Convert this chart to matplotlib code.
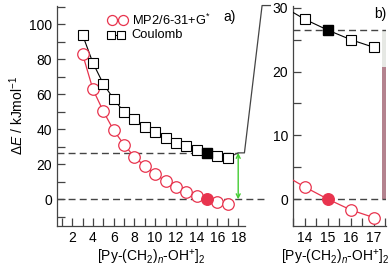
import numpy as np
import matplotlib.pyplot as plt

plt.rcParams['font.family'] = ['Liberation Sans', 'DejaVu Sans']
plt.rcParams['mathtext.fontset'] = 'custom'
plt.rcParams['mathtext.rm'] = 'Liberation Sans'
plt.rcParams['mathtext.it'] = 'Liberation Sans:italic'

# -----------------------------
# data
# -----------------------------
n = np.arange(3, 18)
mp2 = [83, 62.8, 50.3, 39.4, 31.2, 24.2, 19.0, 14.5, 10.3, 7.0, 4.0, 1.9, 0.0, -1.7, -2.9]
coulomb = [93.9, 77.9, 65.9, 57.3, 49.8, 45.6, 41.2, 38.2, 35.0, 32.3, 30.3, 28.2, 26.5, 25.0, 23.8]

n_ref = 15                 # filled markers
e_ref = 26.5               # Coulomb offset at n = 15
bar_low = 20.7             # split of the stacked bar in panel b

RED = '#e8344e'
GREY = '#444444'
FS = 10

fig = plt.figure(figsize=(3.91, 2.68), dpi=100)
ax_a = fig.add_axes([0.146, 0.157, 0.481, 0.821])
ax_b = fig.add_axes([0.749, 0.157, 0.238, 0.821])

mp2 = np.array(mp2)
coulomb = np.array(coulomb)
ref = n == n_ref

for ax in (ax_a, ax_b):
    ax.plot(n, mp2, '-', color=RED, lw=0.9, zorder=3)
    ax.plot(n[~ref], mp2[~ref], 'o', mfc='white', mec=RED, mew=0.9, ms=8.3, ls='none', zorder=4)
    ax.plot(n[ref], mp2[ref], 'o', color=RED, ms=8.3, ls='none', zorder=4)
    ax.plot(n, coulomb, '-', color='black', lw=0.8, zorder=3)
    ax.plot(n[~ref], coulomb[~ref], 's', mfc='white', mec='black', mew=0.8, ms=7, ls='none', zorder=4)
    ax.plot(n[ref], coulomb[ref], 's', color='black', ms=7, ls='none', zorder=4)
    for s in ('top', 'right'):
        ax.spines[s].set_visible(False)
    for s in ('left', 'bottom'):
        ax.spines[s].set_color(GREY)
        ax.spines[s].set_linewidth(0.9)
    ax.tick_params(direction='in', which='both', colors=GREY, labelcolor='black',
                   labelsize=FS, width=0.9, length=6)

# panel a
ax_a.set_xlim(0.55, 18.67)
ax_a.set_ylim(-15.2, 110.4)
ax_a.set_xticks(np.arange(2, 19, 2))
ax_a.set_xticks(np.arange(1, 19, 1), minor=True)
ax_a.set_yticks(np.arange(0, 101, 20))
ax_a.set_yticks(np.arange(-10, 111, 10), minor=True)
ax_a.plot([0.55, 20.9], [0, 0], ls=(0, (5, 3)), color=GREY, lw=1.0, clip_on=False, zorder=2)
ax_a.plot([0.55, 18], [e_ref, e_ref], ls=(0, (5, 3)), color=GREY, lw=1.0, zorder=2)
# connector from the end of panel a to the top of panel b
ax_a.plot([n[-1], 18, 18.6, 20.3, 21.1], [coulomb[-1], e_ref, e_ref, 110.6, 110.6],
          color=GREY, lw=0.9, clip_on=False, zorder=3)
ax_a.annotate('', xy=(18, 0), xytext=(18, e_ref),
              arrowprops=dict(arrowstyle='<->', color='#44cc33', lw=1.0,
                              shrinkA=0, shrinkB=0, mutation_scale=7))
xlab = '[Py-(CH$_2$)$_{\\mathit{n}}$-OH$^{+}$]$_2$'
ax_a.set_xlabel(xlab, fontsize=FS, labelpad=2)
ax_a.set_ylabel('$\\Delta\\mathit{E}$ / kJmol$^{-1}$', fontsize=FS, labelpad=2)
ax_a.text(16.6, 104, 'a)', fontsize=FS, ha='left', va='center')

# legend drawn by hand: two markers joined by a line
ax_a.plot([5.86, 6.92], [102.3, 102.3], '-', color=RED, lw=0.9, marker='o', mfc='white',
          mec=RED, ms=7.2, mew=0.9, clip_on=False)
ax_a.plot([5.71, 6.72], [93.7, 93.7], '-', color='black', lw=0.8, marker='s', mfc='white',
          mec='black', ms=5.5, mew=0.8, clip_on=False)
ax_a.text(7.75, 102.3, 'MP2/6-31+G$^{*}$', fontsize=9.3, va='center')
ax_a.text(7.75, 93.7, 'Coulomb', fontsize=9.3, va='center')

# panel b
ax_b.set_xlim(13.48, 17.52)
ax_b.set_ylim(-4.2, 30.3)
ax_b.set_xticks([14, 15, 16, 17])
ax_b.set_xticks(np.arange(13.5, 17.6, 0.5), minor=True)
ax_b.set_yticks([0, 10, 20, 30])
ax_b.set_yticks([5, 15, 25], minor=True)
ax_b.axhline(0, ls=(0, (5, 3)), color=GREY, lw=1.0, zorder=2)
ax_b.axhline(e_ref, ls=(0, (5, 3)), color=GREY, lw=1.0, zorder=2)
ax_b.bar([17.47], [bar_low], width=0.24, color='#b4838f', zorder=1)
ax_b.bar([17.47], [e_ref - bar_low], bottom=[bar_low], width=0.24, color='#e6e8e4', zorder=1)
ax_b.set_xlabel(xlab, fontsize=FS, labelpad=2, x=0.46)
ax_b.text(17.02, 29.1, 'b)', fontsize=FS, ha='left', va='center')

fig.savefig('out.png', dpi=100)
